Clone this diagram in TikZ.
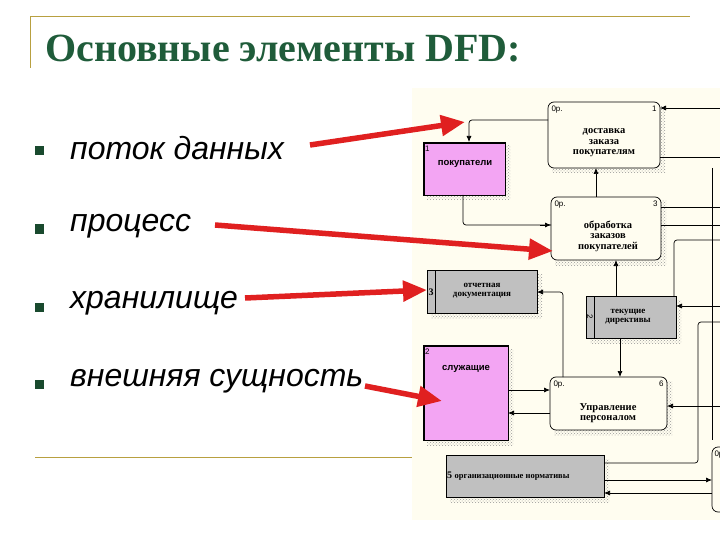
\documentclass[tikz,border=0pt]{standalone}
\usepackage{fontspec}
\setmainfont{Liberation Serif}
\newfontfamily\arialf{Liberation Sans}
\newfontfamily\monof{Liberation Serif}
\usetikzlibrary{patterns,arrows.meta}
\definecolor{olive}{HTML}{B8A040}
\definecolor{ttl}{HTML}{1F5C3A}
\definecolor{cream}{HTML}{FFFDF0}
\definecolor{pinkb}{HTML}{F3A5F3}
\definecolor{grayb}{HTML}{C0C0C0}
\definecolor{redar}{HTML}{E02020}
\begin{document}
\begin{tikzpicture}[x=1pt,y=-1pt,
  redarrow/.style={draw=redar,line width=5.5pt,-{Triangle[length=24pt,width=20pt]}},
  flow/.style={draw=black,line width=0.7pt,-{Latex[length=6pt,width=5pt]},rounded corners=3pt},
  plain/.style={draw=black,line width=0.7pt,rounded corners=3pt},
  shadow/.style={pattern=crosshatch dots,pattern color=gray!80},
  dtxt/.style={font=\monof\bfseries\fontsize{10.5}{10.5}\selectfont,align=center},
  stxt/.style={font=\monof\bfseries\fontsize{9}{9}\selectfont,align=center},
  small/.style={font=\arialf\fontsize{8}{9}\selectfont},
  bul/.style={fill=ttl!80!black,minimum size=9pt,inner sep=0pt},
  btxt/.style={font=\arialf\itshape\fontsize{32}{34}\selectfont,anchor=west,inner sep=0pt}]
\useasboundingbox (0,0) rectangle (720,540);
\fill[white] (0,0) rectangle (720,540);
% frame lines
\draw[olive,line width=1pt] (30,17) -- (690,17);
\draw[olive,line width=1pt] (30,17) -- (30,68);
\draw[olive,line width=1pt] (35,457) -- (420,457);
\node[anchor=base west,text=ttl,font=\bfseries\fontsize{40}{42}\selectfont,inner sep=0] (title) at (45,62) {Основные элементы DFD:};
% bullets
\node[bul] (b1) at (39,151) {}; \node[btxt] (t1) at (70,148) {поток данных};
\node[bul] (b2) at (39,229) {}; \node[btxt] (t2) at (70,226) {процесс};
\node[bul] (b3) at (39,307) {}; \node[btxt] (t3) at (70,303) {хранилище};
\node[bul] (b4) at (39,384) {}; \node[btxt] (t4) at (70,381) {внешняя сущность};
% diagram background
\fill[cream] (412,88) rectangle (720,520);
% shadows
\fill[shadow] (427,146) rectangle (510,200);
\fill[shadow] (552,106) rectangle (665,173);
\fill[shadow] (555,201) rectangle (666,265);
\fill[shadow] (431,274) rectangle (542,318);
\fill[shadow] (590,300) rectangle (681,343);
\fill[shadow] (427,349) rectangle (513,445);
\fill[shadow] (554,381) rectangle (672,435);
\fill[shadow] (450,459) rectangle (609,502);
% external entities
\draw[fill=pinkb,line width=0.6pt] (423,142) rectangle (505,195);
\draw[line width=2.5pt] (424,195) -- (424,143) -- (505,143);
\node[dtxt,font=\arialf\bfseries\fontsize{9.5}{10}\selectfont] (pok) at (465,164) {покупатели};
\node[small,anchor=north west,inner sep=1pt] (n1) at (424,145) {1};
\coordinate (pokB) at (463,195);
\draw[fill=pinkb,line width=0.6pt] (423,345) rectangle (508,440);
\draw[line width=2.5pt] (424,440) -- (424,346) -- (508,346);
\node[dtxt,font=\arialf\bfseries\fontsize{9.5}{10}\selectfont] (slu) at (466,369) {служащие};
\node[small,anchor=north west,inner sep=1pt] (n2) at (424,348) {2};
% processes
\draw[fill=cream,line width=0.7pt,rounded corners=6pt] (548,102) rectangle (660,168);
\node[small,anchor=north west] (p1a) at (548,102) {0p.};
\node[small,anchor=north east] (p1b) at (660,102) {1};
\node[dtxt] (p1) at (604,143) {доставка\\заказа\\покупателям};
\draw[fill=cream,line width=0.7pt,rounded corners=6pt] (551,197) rectangle (661,260);
\node[small,anchor=north west] (p3a) at (551,197) {0p.};
\node[small,anchor=north east] (p3b) at (661,197) {3};
\node[dtxt] (p3) at (608,236) {обработка\\заказов\\покупателей};
\draw[fill=cream,line width=0.7pt,rounded corners=6pt] (550,377) rectangle (667,430);
\node[small,anchor=north west] (p6a) at (550,377) {0p.};
\node[small,anchor=north east] (p6b) at (667,377) {6};
\node[dtxt] (p6) at (608,413) {Управление\\персоналом};
\draw[fill=cream,line width=0.7pt,rounded corners=6pt] (712,447) rectangle (740,512);
\node[small,anchor=north west] (p7a) at (711,447) {0p};
% stores
\draw[fill=grayb,line width=0.6pt] (427,270) rectangle (537,313);
\draw[line width=0.6pt] (435,270) -- (435,313);
\node[small,font=\monof\bfseries\fontsize{10}{10}\selectfont] (s3n) at (431,292) {3};
\node[stxt] (s3) at (482,291) {отчетная\\документация};
\draw[fill=grayb,line width=0.6pt] (586,296) rectangle (676,338);
\draw[line width=0.6pt] (594,296) -- (594,338);
\node[small,rotate=-90] (s2n) at (590,317) {2};
\node[stxt] (s2) at (628,317) {текущие\\директивы};
\draw[fill=grayb,line width=0.6pt] (446,455) rectangle (604,497);
\node[stxt,anchor=west,inner sep=1pt] (s5) at (446,476) {\fontsize{10}{10}\selectfont 5 \fontsize{8.5}{9}\selectfont организационные нормативы};
% flows
\draw[flow] (548,120) -- (469,120) -- (469,142);
\draw[plain] (pokB) -- (463,225) -- (551,225);
\draw[flow] (540,225) -- (551,225);
\draw[flow] (596,197) -- (596,168);
\draw[flow] (720,108) -- (660,108);
\draw[plain] (660,157) -- (720,157);
\draw[plain] (661,207) -- (720,207);
\draw[plain] (661,225) -- (720,225);
\draw[plain] (720,240) -- (674,240) -- (674,296);
\draw[flow] (616,296) -- (616,260);
\draw[flow] (720,306) -- (676,306);
\draw[flow] (620,338) -- (620,377);
\draw[plain] (720,322) -- (698,322) -- (698,463) -- (604,463);
\draw[flow] (720,406) -- (667,406);
\draw[flow] (508,390) -- (550,390);
\draw[flow] (550,413) -- (508,413);
\draw[flow] (563,377) -- (563,292) -- (537,292);
\draw[flow] (604,480) -- (712,480);
\draw[flow] (712,493) -- (604,493);
\draw[plain] (712,168) -- (712,440);
% red arrows
\draw[redarrow] (310,145) -- (465,122);
\draw[redarrow] (215,225) -- (553,251);
\draw[redarrow] (245,298) -- (427,290);
\draw[redarrow] (365,386) -- (442,401);
\end{tikzpicture}
\end{document}
